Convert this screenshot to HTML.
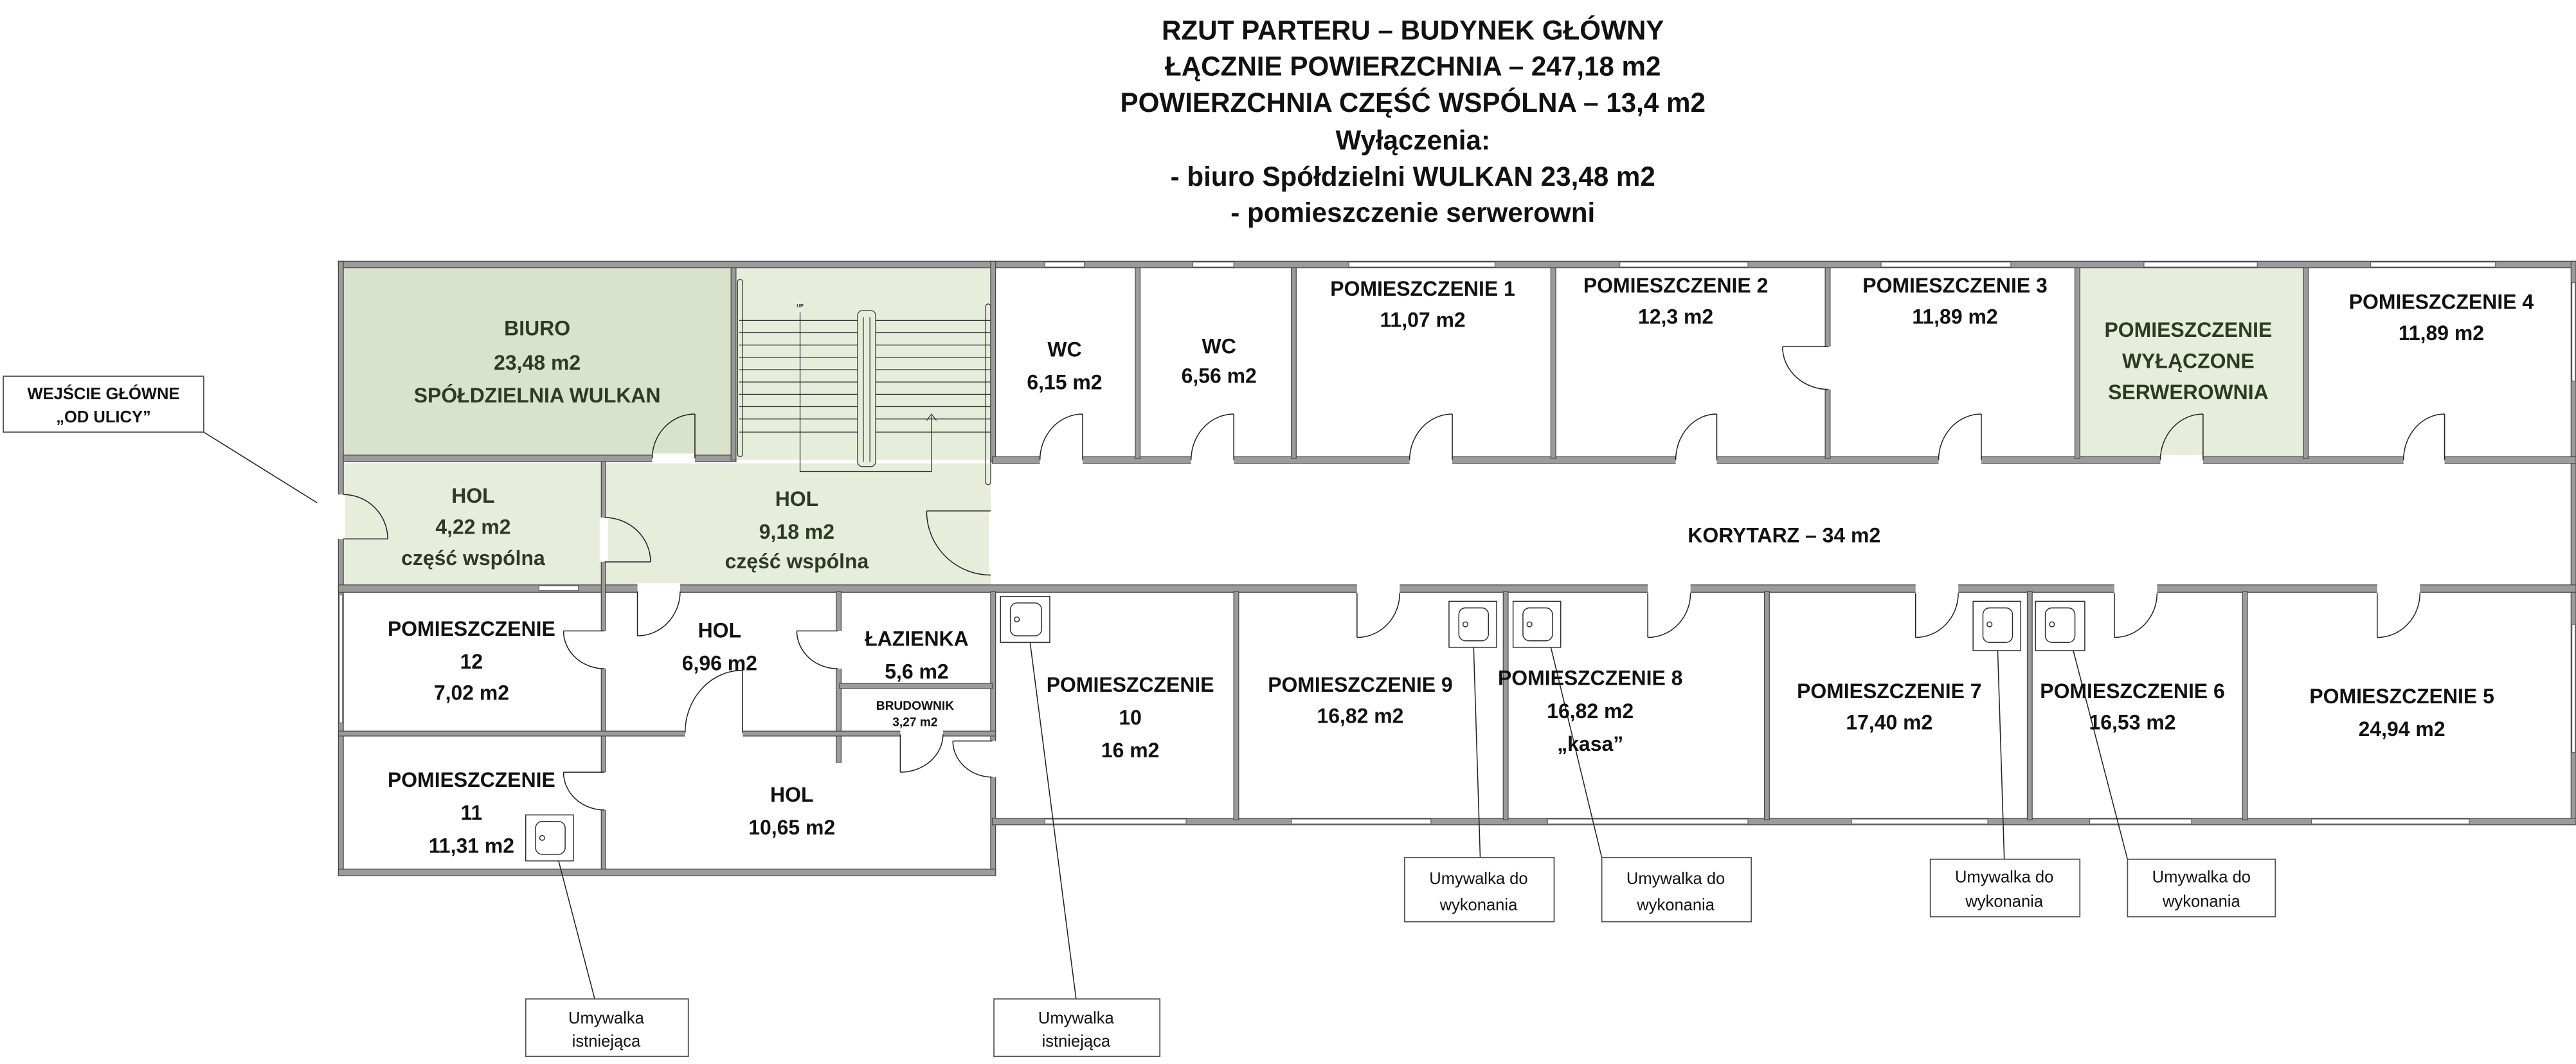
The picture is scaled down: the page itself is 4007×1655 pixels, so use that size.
<!DOCTYPE html>
<html><head><meta charset="utf-8"><style>
html,body{margin:0;padding:0;background:#fff;}
svg{display:block;}
text{font-family:"Liberation Sans",sans-serif;font-weight:bold;text-anchor:middle;}
</style></head><body>
<svg width="4007" height="1655" viewBox="0 0 1568 647.6" xmlns="http://www.w3.org/2000/svg">
<rect width="1568" height="648" fill="#fff"/>
<!-- title -->
<g font-size="16.5" fill="#111">
<text x="860" y="24">RZUT PARTERU – BUDYNEK GŁÓWNY</text>
<text x="860" y="46">ŁĄCZNIE POWIERZCHNIA  – 247,18 m2</text>
<text x="860" y="68">POWIERZCHNIA CZĘŚĆ WSPÓLNA – 13,4 m2</text>
<text x="860" y="91">Wyłączenia:</text>
<text x="860" y="113">- biuro Spółdzielni WULKAN 23,48 m2</text>
<text x="860" y="135">- pomieszczenie serwerowni</text>
</g>
<!-- fills -->
<rect x="209" y="163" width="236" height="114" fill="#d9e2cb"/>
<rect x="448" y="163" width="155" height="117" fill="#e6eedb"/>
<rect x="209" y="282" width="158" height="74" fill="#e6eedb"/>
<rect x="369" y="282" width="234" height="74" fill="#e6eedb"/>
<rect x="1266" y="163" width="136" height="116" fill="#e6eedb"/>
<!-- stairs -->
<g stroke="#333" stroke-width="0.5" fill="none">
<line x1="450" y1="195" x2="603" y2="195"/><line x1="450" y1="202.5" x2="603" y2="202.5"/><line x1="450" y1="210" x2="603" y2="210"/><line x1="450" y1="217.5" x2="603" y2="217.5"/><line x1="450" y1="225" x2="603" y2="225"/><line x1="450" y1="232.5" x2="603" y2="232.5"/><line x1="450" y1="240" x2="603" y2="240"/><line x1="450" y1="247.5" x2="603" y2="247.5"/><line x1="450" y1="255" x2="603" y2="255"/><line x1="450" y1="263" x2="603" y2="263"/>
<rect x="522" y="189" width="11" height="95" rx="3" fill="#e6eedb"/>
<line x1="525.5" y1="193" x2="525.5" y2="281"/><line x1="529.5" y1="193" x2="529.5" y2="281"/>
<rect x="449" y="170" width="3" height="108" rx="1.5"/>
<rect x="600" y="185" width="3" height="110" rx="1.5"/>
<polyline points="487,190 487,287 567,287 567,253"/>
<polyline points="564,256 567,252 570,256"/>
</g>
<text x="487" y="187" font-size="3" fill="#333">UP</text>
<!-- walls -->
<g fill="#9b9b9b" stroke="#4a4a4a" stroke-width="0.5">
<rect x="206" y="159" width="1362" height="4"/>
<rect x="206" y="159" width="3" height="374"/>
<rect x="1565" y="159" width="3" height="343"/>
<rect x="209" y="277" width="239" height="4"/>
<rect x="445" y="163" width="3" height="117"/>
<rect x="603" y="159" width="3" height="122"/>
<rect x="604" y="278" width="964" height="4"/>
<rect x="206" y="356" width="1362" height="4.5"/>
<rect x="366" y="281" width="2.5" height="250"/>
<rect x="603" y="360" width="3" height="173"/>
<rect x="206" y="529" width="400" height="4"/>
<rect x="604" y="498" width="964" height="4"/>
<rect x="509" y="360" width="3" height="104"/>
<rect x="511" y="416" width="93" height="3"/>
<rect x="206" y="445" width="400" height="3"/>
<rect x="691" y="163" width="3" height="116"/>
<rect x="786" y="163" width="3" height="116"/>
<rect x="944" y="163" width="3" height="116"/>
<rect x="1111" y="163" width="3" height="116"/>
<rect x="1263" y="163" width="3" height="116"/>
<rect x="1402" y="163" width="3" height="116"/>
<rect x="751" y="360" width="3" height="139"/>
<rect x="915" y="360" width="3" height="139"/>
<rect x="1074" y="360" width="3" height="139"/>
<rect x="1234" y="360" width="3" height="139"/>
<rect x="1365" y="360" width="3" height="139"/>
</g>
<!-- windows -->
<g fill="#fff" stroke="#666" stroke-width="0.5">
<rect x="636" y="159.5" width="24" height="3"/><rect x="726" y="159.5" width="25" height="3"/><rect x="821" y="159.5" width="89" height="3"/><rect x="986" y="159.5" width="78" height="3"/><rect x="1145" y="159.5" width="79" height="3"/><rect x="1305" y="159.5" width="69" height="3"/><rect x="1443" y="159.5" width="76" height="3"/>
<rect x="636" y="498.5" width="86" height="3"/><rect x="786" y="498.5" width="85" height="3"/><rect x="942" y="498.5" width="122" height="3"/><rect x="1127" y="498.5" width="83" height="3"/><rect x="1272" y="498.5" width="62" height="3"/><rect x="1407" y="498.5" width="96" height="3"/>
<rect x="206.5" y="362" width="2" height="78"/><rect x="1565.5" y="172" width="2" height="60"/><rect x="1565.5" y="380" width="2" height="78"/>
<rect x="328" y="356.5" width="24" height="3"/>
</g>
<!-- door openings -->
<g fill="#fff">
<rect x="633" y="277" width="26" height="6"/><rect x="725" y="277" width="26" height="6"/><rect x="858" y="277" width="26" height="6"/><rect x="1020" y="277" width="25" height="6"/><rect x="1180" y="277" width="26" height="6"/><rect x="1315" y="277" width="26" height="6"/><rect x="1463" y="277" width="25" height="6"/>
<rect x="397" y="276" width="26" height="6"/>
<rect x="826" y="355" width="26" height="7"/><rect x="1003" y="355" width="26" height="7"/><rect x="1166" y="355" width="26" height="7"/><rect x="1287" y="355" width="26" height="7"/><rect x="1447" y="355" width="26" height="7"/>
<rect x="388" y="355" width="26" height="7"/>
<rect x="1110" y="211" width="5" height="26"/>
<rect x="205" y="301" width="5" height="27"/>
<rect x="365" y="315" width="5" height="27"/>
<rect x="365" y="384" width="5" height="23"/>
<rect x="508" y="384" width="5" height="23"/>
<rect x="417" y="444" width="35" height="5"/>
<rect x="548" y="444" width="26" height="5"/>
<rect x="602" y="451" width="5" height="22"/>
<rect x="365" y="470" width="5" height="23"/>
<rect x="602" y="311" width="3" height="39"/>
</g>
<!-- doors -->
<g fill="none" stroke="#222" stroke-width="0.6">
<path d="M659 280V252M633 280A26 28 0 0 1 659 252"/>
<path d="M751 280V252M725 280A26 28 0 0 1 751 252"/>
<path d="M884 280V252M858 280A26 28 0 0 1 884 252"/>
<path d="M1045 280V252M1020 280A25 28 0 0 1 1045 252"/>
<path d="M1206 280V252M1180 280A26 28 0 0 1 1206 252"/>
<path d="M1341 280V252M1315 280A26 28 0 0 1 1341 252"/>
<path d="M1488 280V252M1463 280A25 28 0 0 1 1488 252"/>
<path d="M423 279V252M397 279A26 27 0 0 1 423 252"/>
<path d="M826 361V388M826 388A26 27 0 0 0 852 361"/>
<path d="M1003 361V388M1003 388A26 27 0 0 0 1029 361"/>
<path d="M1166 361V388M1166 388A26 27 0 0 0 1192 361"/>
<path d="M1287 361V388M1287 388A26 27 0 0 0 1313 361"/>
<path d="M1447 361V388M1447 388A26 27 0 0 0 1473 361"/>
<path d="M388 360V387M388 387A26 27 0 0 0 414 360"/>
<path d="M1113 211H1085M1085 211A28 26 0 0 0 1113 237"/>
<path d="M209 328H236M236 328A27 27 0 0 0 209 301"/>
<path d="M368 342H396M396 342A28 27 0 0 0 368 315"/>
<path d="M603 311H564M564 311A39 39 0 0 0 603 350"/>
<path d="M368 384H343M343 384A25 23 0 0 0 368 407"/>
<path d="M510 384H485M485 384A25 23 0 0 0 510 407"/>
<path d="M452 446V408M452 408A35 38 0 0 0 417 446"/>
<path d="M548 447V470M548 470A26 23 0 0 0 574 447"/>
<path d="M604 451H580M580 451A24 22 0 0 0 604 473"/>
<path d="M368 470H343M343 470A25 23 0 0 0 368 493"/>
</g>
<!-- sinks -->
<g fill="#fff" stroke="#333" stroke-width="0.6">
<rect x="320" y="496" width="29" height="28"/><rect x="326" y="500" width="18" height="20" rx="4"/>
<rect x="609" y="363" width="30" height="28"/><rect x="615" y="367" width="19" height="20" rx="4"/>
<rect x="882" y="366" width="29" height="28"/><rect x="888" y="370" width="18" height="20" rx="4"/>
<rect x="921" y="366" width="29" height="28"/><rect x="927" y="370" width="18" height="20" rx="4"/>
<rect x="1201" y="366" width="29" height="30"/><rect x="1207" y="370" width="18" height="21" rx="4"/>
<rect x="1239" y="366" width="30" height="30"/><rect x="1245" y="370" width="18" height="21" rx="4"/>
<circle cx="330" cy="510" r="1.5"/><circle cx="619" cy="377" r="1.5"/><circle cx="892" cy="380" r="1.5"/><circle cx="931" cy="380" r="1.5"/><circle cx="1211" cy="380" r="1.5"/><circle cx="1249" cy="380" r="1.5"/>
</g>
<!-- leader lines -->
<g stroke="#222" stroke-width="0.6">
<line x1="124" y1="263" x2="193" y2="306"/>
<line x1="340" y1="524" x2="362" y2="608"/>
<line x1="627" y1="391" x2="655" y2="608"/>
<line x1="897" y1="394" x2="901" y2="522"/>
<line x1="944" y1="394" x2="975" y2="522"/>
<line x1="1216" y1="396" x2="1220" y2="523"/>
<line x1="1262" y1="396" x2="1295" y2="523"/>
</g>
<g fill="#fff" stroke="#555" stroke-width="0.7">
<rect x="2" y="229" width="122" height="34"/>
<rect x="320" y="608" width="99" height="35"/>
<rect x="605" y="608" width="101" height="35"/>
<rect x="855" y="522" width="91" height="39"/>
<rect x="975" y="522" width="91" height="39"/>
<rect x="1175" y="523" width="91" height="35"/>
<rect x="1295" y="523" width="90" height="35"/>
</g>
<g font-size="10" fill="#111" font-weight="normal">
<text x="63" y="243" font-weight="bold">WEJŚCIE GŁÓWNE</text>
<text x="63" y="257" font-weight="bold">„OD ULICY”</text>
<text x="369" y="623" style="font-weight:normal">Umywalka</text><text x="369" y="637" style="font-weight:normal">istniejąca</text>
<text x="655" y="623" style="font-weight:normal">Umywalka</text><text x="655" y="637" style="font-weight:normal">istniejąca</text>
<text x="900" y="538" style="font-weight:normal">Umywalka do</text><text x="900" y="554" style="font-weight:normal">wykonania</text>
<text x="1020" y="538" style="font-weight:normal">Umywalka do</text><text x="1020" y="554" style="font-weight:normal">wykonania</text>
<text x="1220" y="537" style="font-weight:normal">Umywalka do</text><text x="1220" y="552" style="font-weight:normal">wykonania</text>
<text x="1340" y="537" style="font-weight:normal">Umywalka do</text><text x="1340" y="552" style="font-weight:normal">wykonania</text>
</g>
<!-- room labels -->
<g font-size="12.5" fill="#2e3a22">
<text x="327" y="204">BIURO</text><text x="327" y="225">23,48 m2</text><text x="327" y="245">SPÓŁDZIELNIA WULKAN</text>
<text x="288" y="306">HOL</text><text x="288" y="325">4,22 m2</text><text x="288" y="344">część wspólna</text>
<text x="485" y="308">HOL</text><text x="485" y="328">9,18 m2</text><text x="485" y="346">część wspólna</text>
<text x="1332" y="205">POMIESZCZENIE</text><text x="1332" y="224">WYŁĄCZONE</text><text x="1332" y="243">SERWEROWNIA</text>
</g>
<g font-size="12.5" fill="#111">
<text x="648" y="217">WC</text><text x="648" y="237">6,15 m2</text>
<text x="742" y="215">WC</text><text x="742" y="233">6,56 m2</text>
<text x="866" y="180">POMIESZCZENIE 1</text><text x="866" y="199">11,07 m2</text>
<text x="1020" y="178">POMIESZCZENIE 2</text><text x="1020" y="197">12,3 m2</text>
<text x="1190" y="178">POMIESZCZENIE 3</text><text x="1190" y="197">11,89 m2</text>
<text x="1486" y="188">POMIESZCZENIE 4</text><text x="1486" y="207">11,89 m2</text>
<text x="1086" y="330">KORYTARZ – 34 m2</text>
<text x="287" y="387">POMIESZCZENIE</text><text x="287" y="407">12</text><text x="287" y="426">7,02 m2</text>
<text x="438" y="388">HOL</text><text x="438" y="408">6,96 m2</text>
<text x="558" y="393">ŁAZIENKA</text><text x="558" y="413">5,6 m2</text>
<text x="557" y="432" font-size="7.5">BRUDOWNIK</text><text x="557" y="442" font-size="7.5">3,27 m2</text>
<text x="287" y="479">POMIESZCZENIE</text><text x="287" y="499">11</text><text x="287" y="519">11,31 m2</text>
<text x="482" y="488">HOL</text><text x="482" y="508">10,65 m2</text>
<text x="688" y="421">POMIESZCZENIE</text><text x="688" y="441">10</text><text x="688" y="461">16 m2</text>
<text x="828" y="421">POMIESZCZENIE 9</text><text x="828" y="440">16,82 m2</text>
<text x="968" y="417">POMIESZCZENIE 8</text><text x="968" y="437">16,82 m2</text><text x="968" y="457">„kasa”</text>
<text x="1150" y="425">POMIESZCZENIE 7</text><text x="1150" y="444">17,40 m2</text>
<text x="1298" y="425">POMIESZCZENIE 6</text><text x="1298" y="444">16,53 m2</text>
<text x="1462" y="428">POMIESZCZENIE 5</text><text x="1462" y="448">24,94 m2</text>
</g>
</svg>
</body></html>
